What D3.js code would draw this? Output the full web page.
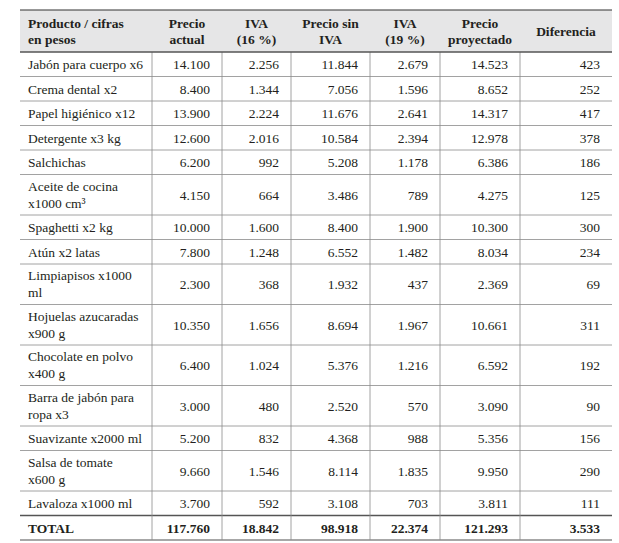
<!DOCTYPE html>
<html><head><meta charset="utf-8">
<script src="https://cdn.jsdelivr.net/npm/d3@7"></script>
<style>body{margin:0;background:#fff}text{font-family:"Liberation Serif","DejaVu Serif",serif;font-size:13.5px;fill:#231f20}</style>
</head><body><svg id="c" width="619" height="543"></svg>
<script>
var headers = [["Producto / cifras","en pesos"],["Precio","actual"],["IVA","(16 %)"],["Precio sin","IVA"],["IVA","(19 %)"],["Precio","proyectado"],["Diferencia"]];
var productos = [["Jabón para cuerpo x6"],["Crema dental x2"],["Papel higiénico x12"],["Detergente x3 kg"],["Salchichas"],["Aceite de cocina","x1000 cm³"],["Spaghetti x2 kg"],["Atún x2 latas"],["Limpiapisos x1000","ml"],["Hojuelas azucaradas","x900 g"],["Chocolate en polvo","x400 g"],["Barra de jabón para","ropa x3"],["Suavizante x2000 ml"],["Salsa de tomate","x600 g"],["Lavaloza x1000 ml"]];
var precioActual = ["14.100","8.400","13.900","12.600","6.200","4.150","10.000","7.800","2.300","10.350","6.400","3.000","5.200","9.660","3.700"];
var iva16 = ["2.256","1.344","2.224","2.016","992","664","1.600","1.248","368","1.656","1.024","480","832","1.546","592"];
var precioSinIva = ["11.844","7.056","11.676","10.584","5.208","3.486","8.400","6.552","1.932","8.694","5.376","2.520","4.368","8.114","3.108"];
var iva19 = ["2.679","1.596","2.641","2.394","1.178","789","1.900","1.482","437","1.967","1.216","570","988","1.835","703"];
var precioProyectado = ["14.523","8.652","14.317","12.978","6.386","4.275","10.300","8.034","2.369","10.661","6.592","3.090","5.356","9.950","3.811"];
var diferencia = ["423","252","417","378","186","125","300","234","69","311","192","90","156","290","111"];
var total = ["TOTAL","117.760","18.842","98.918","22.374","121.293","3.533"];

var svg = d3.select("#c");
var colEdges = [20,152,222,291,370,440,520,612];
var headH = 42, rowH1 = 24.5, rowH2 = 40.5, tableTop = 10;

var rows = productos.map(function(p,i){
  return {lines:p, vals:[precioActual[i],iva16[i],precioSinIva[i],iva19[i],precioProyectado[i],diferencia[i]], bold:false};
});
rows.push({lines:[total[0]], vals:total.slice(1), bold:true});
var yPos = tableTop + headH;
rows.forEach(function(r){ r.y = yPos; r.h = r.lines.length > 1 ? rowH2 : rowH1; yPos += r.h; });
var bottom = yPos;

// header band
svg.append("rect").attr("x",colEdges[0]).attr("y",tableTop).attr("width",colEdges[7]-colEdges[0]).attr("height",headH).attr("fill","#e6e6e7");
headers.forEach(function(h,j){
  var tx = j===0 ? colEdges[0]+8 : (colEdges[j]+colEdges[j+1])/2;
  var t = svg.append("text").attr("font-weight","bold").attr("text-anchor", j===0 ? "start" : "middle");
  var y0 = tableTop + headH/2 - (h.length-1)*8 + 5;
  h.forEach(function(l,k){ t.append("tspan").attr("x", tx).attr("y", y0 + k*16).text(l); });
});

// rows
rows.forEach(function(r,i){
  if (i>0) svg.append("line").attr("x1",colEdges[0]).attr("x2",colEdges[7]).attr("y1",r.y).attr("y2",r.y).attr("stroke", r.bold ? "#555" : "#8a8a8a").attr("stroke-width", r.bold ? 1.4 : 0.8);
  var t = svg.append("text").attr("font-weight", r.bold ? "bold":null);
  r.lines.forEach(function(l,k){
    t.append("tspan").attr("x",colEdges[0]+8).attr("y", r.lines.length>1 ? r.y+16+k*17 : r.y+r.h/2+5).text(l);
  });
  r.vals.forEach(function(v,j){
    svg.append("text").attr("text-anchor","end").attr("font-weight", r.bold ? "bold":null)
      .attr("x", colEdges[j+2]-12).attr("y", r.y+r.h/2+5).text(v);
  });
});

// vertical lines
colEdges.slice(1,7).forEach(function(x){
  svg.append("line").attr("x1",x).attr("x2",x).attr("y1",tableTop+headH).attr("y2",bottom).attr("stroke","#8a8a8a").attr("stroke-width",0.8);
});
svg.append("line").attr("x1",colEdges[0]).attr("x2",colEdges[7]).attr("y1",tableTop).attr("y2",tableTop).attr("stroke","#333").attr("stroke-width",1.2);
svg.append("line").attr("x1",colEdges[0]).attr("x2",colEdges[7]).attr("y1",tableTop+headH).attr("y2",tableTop+headH).attr("stroke","#555").attr("stroke-width",1.4);
svg.append("line").attr("x1",colEdges[0]).attr("x2",colEdges[7]).attr("y1",bottom).attr("y2",bottom).attr("stroke","#8a8a8a").attr("stroke-width",1.4);
</script></body></html>
